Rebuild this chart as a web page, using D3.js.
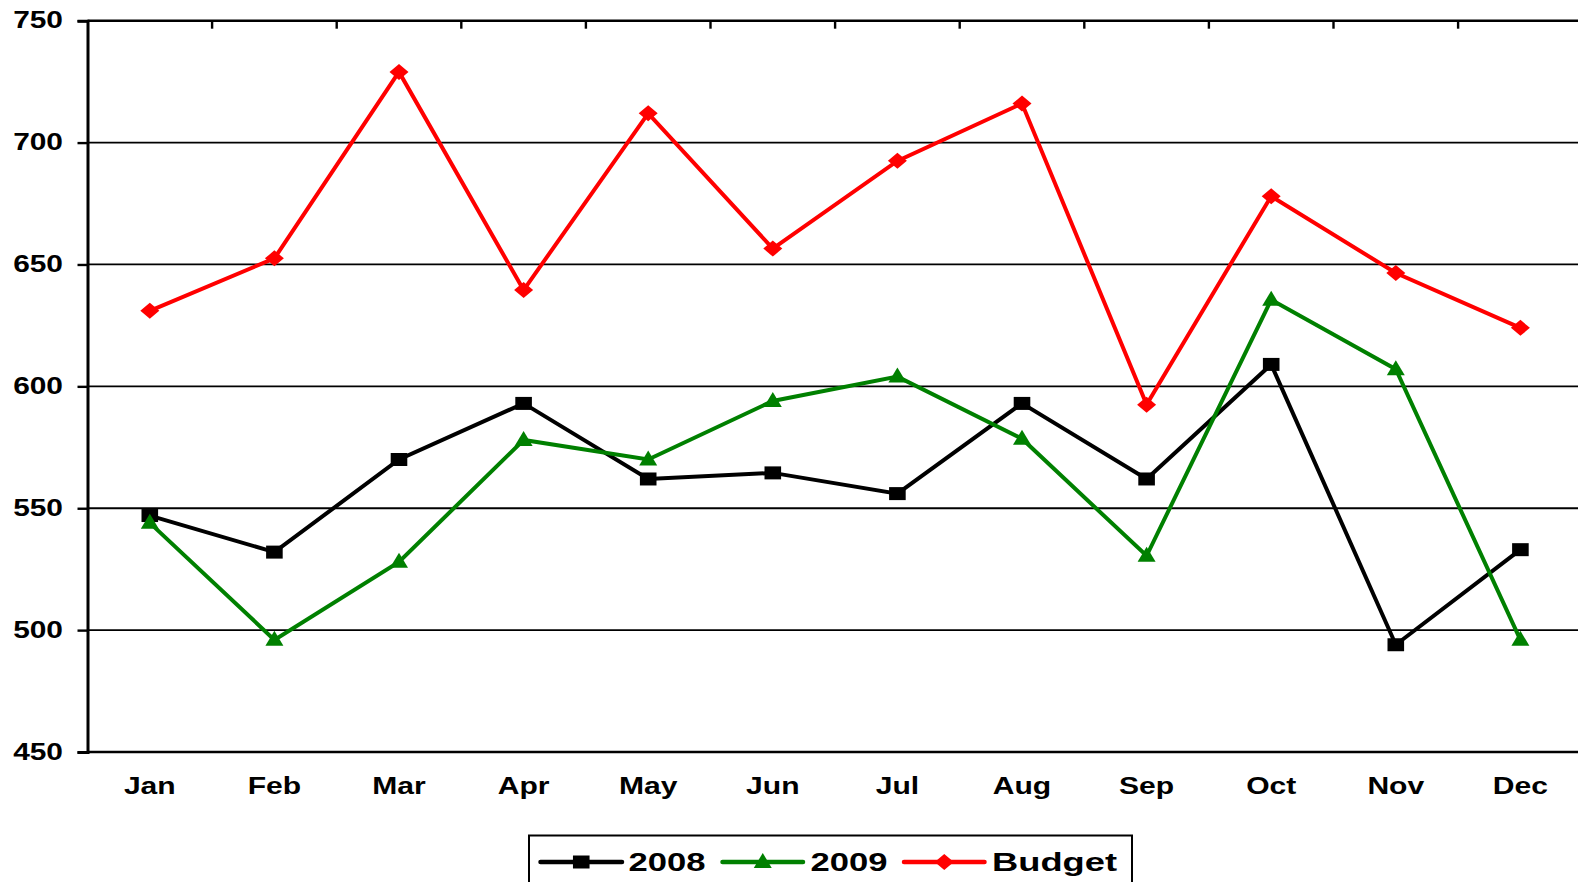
<!DOCTYPE html>
<html>
<head>
<meta charset="utf-8">
<script src="https://cdn.jsdelivr.net/npm/d3@7"></script>
<style>
  html, body { margin: 0; padding: 0; background: #fff; }
  svg { display: block; }
  text { font-family: "Liberation Sans", Arial, sans-serif; font-weight: bold; fill: #000; }
</style>
</head>
<body>
<svg id="chart" width="1578" height="882"></svg>
<script>
const months = ["Jan","Feb","Mar","Apr","May","Jun","Jul","Aug","Sep","Oct","Nov","Dec"];
const values2008 = [547, 532, 570, 593, 562, 564.5, 556, 593, 562, 609, 494, 533];
const values2009 = [544, 496, 528, 578, 570, 594, 604, 578.5, 530.5, 635.5, 607, 496];
const valuesBudget = [631, 652.5, 729, 639.5, 712, 656.5, 692.5, 716, 592.5, 678, 646.5, 624];
const yTicks = [450, 500, 550, 600, 650, 700, 750];
const seriesNames = ["2008", "2009", "Budget"];
const seriesColors = ["#000000", "#008000", "#ff0000"];
const seriesSymbols = ["square", "triangle", "diamond"];

const series = [values2008, values2009, valuesBudget].map((vals, i) => ({
  name: seriesNames[i], color: seriesColors[i], symbol: seriesSymbols[i], values: vals
}));

const svg = d3.select("#chart");
const plotLeft = 87.5, plotTop = 20.7, plotBottom = 752;
const bandW = 124.6;
const x = d3.scaleBand().domain(months).range([plotLeft, plotLeft + bandW * months.length]).padding(0);
const y = d3.scaleLinear().domain([450, 750]).range([plotBottom, plotTop]);
const xc = m => x(m) + x.bandwidth() / 2;

// gridlines
svg.append("g").selectAll("line").data(yTicks.filter(t => t !== 450 && t !== 750)).join("line")
  .attr("x1", plotLeft).attr("x2", 1578)
  .attr("y1", d => y(d)).attr("y2", d => y(d))
  .attr("stroke", "#000").attr("stroke-width", 1.8);

// top and bottom frame lines
[750, 450].forEach(v => {
  svg.append("line").attr("x1", plotLeft).attr("x2", 1578)
    .attr("y1", y(v)).attr("y2", y(v))
    .attr("stroke", "#000").attr("stroke-width", 2.6);
});

// category tick marks at the top line
const boundaries = months.slice(1).map(m => x(m));
svg.append("g").selectAll("line").data(boundaries).join("line")
  .attr("x1", d => d).attr("x2", d => d)
  .attr("y1", y(750)).attr("y2", y(750) + 8)
  .attr("stroke", "#000").attr("stroke-width", 2.4);

// y axis
const yAxis = d3.axisLeft(y).tickValues(yTicks).tickSize(10).tickFormat("");
const gy = svg.append("g").attr("transform", `translate(${plotLeft},0)`).call(yAxis);
gy.select(".domain").attr("stroke", "#000").attr("stroke-width", 3);
gy.selectAll(".tick line").attr("stroke", "#000").attr("stroke-width", 2.4);

// y labels (horizontally stretched like the original)
svg.append("g").selectAll("text").data(yTicks).join("text")
  .attr("transform", d => `translate(63,${y(d) + 7.5}) scale(1.3,1)`)
  .attr("text-anchor", "end")
  .attr("font-size", 23)
  .text(d => d);

// x labels
svg.append("g").selectAll("text").data(months).join("text")
  .attr("transform", d => `translate(${xc(d)},794) scale(1.28,1)`)
  .attr("text-anchor", "middle")
  .attr("font-size", 23.5)
  .text(d => d);

// marker paths
function markerPath(sym) {
  if (sym === "square") return "M-8.3,-6.5H8.3V6.5H-8.3Z";
  if (sym === "triangle") return "M0,-9L9,6H-9Z";
  return "M0,-8L9.5,0L0,8L-9.5,0Z";
}

const line = d3.line().x((d, i) => xc(months[i])).y(d => y(d));

series.forEach(s => {
  const g = svg.append("g");
  g.append("path").datum(s.values).attr("d", line)
    .attr("fill", "none").attr("stroke", s.color).attr("stroke-width", 4)
    .attr("stroke-linejoin", "miter");
  g.selectAll("path.mk").data(s.values).join("path").attr("class", "mk")
    .attr("d", markerPath(s.symbol))
    .attr("transform", (d, i) => `translate(${xc(months[i])},${y(d)})`)
    .attr("fill", s.color);
});

// legend
const legend = svg.append("g");
legend.append("rect").attr("x", 529).attr("y", 835.5).attr("width", 603).attr("height", 60)
  .attr("fill", "#fff").attr("stroke", "#000").attr("stroke-width", 2);
const legendItems = [
  { x1: 540.5, x2: 622, tx: 628.5, w: 77 },
  { x1: 722.5, x2: 803, tx: 810.5, w: 77 },
  { x1: 904, x2: 984.5, tx: 992, w: 125 }
];
const ly = 862;
series.forEach((s, i) => {
  const it = legendItems[i];
  legend.append("line").attr("x1", it.x1).attr("x2", it.x2).attr("y1", ly).attr("y2", ly)
    .attr("stroke", s.color).attr("stroke-width", 4.5).attr("stroke-linecap", "round");
  legend.append("path").attr("d", markerPath(s.symbol))
    .attr("transform", `translate(${(it.x1 + it.x2) / 2},${ly})`).attr("fill", s.color);
  legend.append("text")
    .attr("x", it.tx).attr("y", ly + 8.5)
    .attr("font-size", 25)
    .attr("textLength", it.w).attr("lengthAdjust", "spacingAndGlyphs")
    .text(s.name);
});
</script>
</body>
</html>
